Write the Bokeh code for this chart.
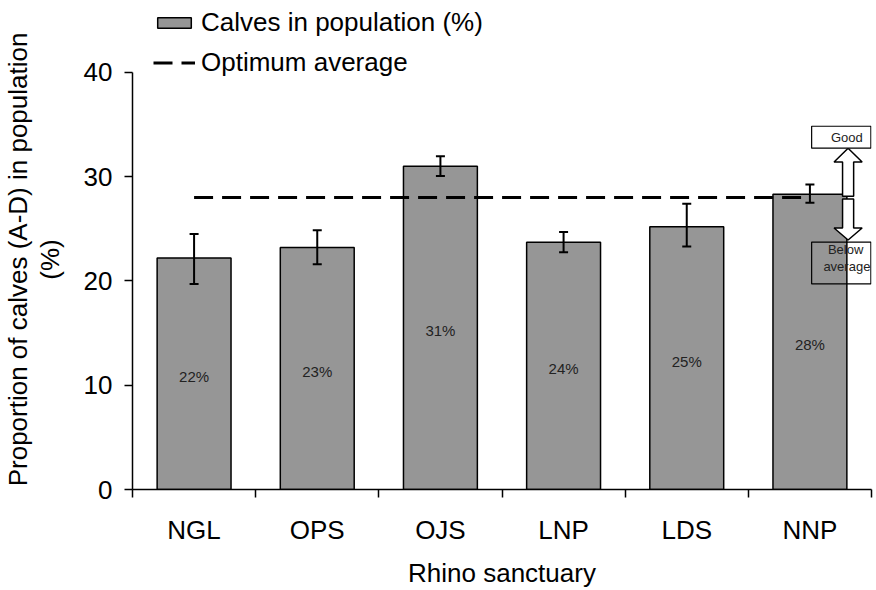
from bokeh.plotting import figure
from bokeh.models import (ColumnDataSource, FixedTicker, Whisker, TeeHead, Legend,
                          LegendItem, Range1d)
from bokeh.core.properties import value
from bokeh.embed import file_html
from bokeh.resources import INLINE

# ---- data ----
sanctuaries = ["NGL", "OPS", "OJS", "LNP", "LDS", "NNP"]
calves_pct = [22.2, 23.2, 31.0, 23.7, 25.2, 28.3]
err_lower = [19.7, 21.6, 30.05, 22.75, 23.3, 27.5]
err_upper = [24.5, 24.85, 31.95, 24.7, 27.4, 29.25]
bar_labels = ["22%", "23%", "31%", "24%", "25%", "28%"]
optimum = [28, 28, 28, 28, 28, 28]
y_ticks = [0, 10, 20, 30, 40]
x_title = "Rhino sanctuary"
y_title = ["Proportion of calves (A-D) in population", "(%)"]

FONT = "Liberation Sans"

# layout (page px; the Bokeh page has no body margin)
FIG_W, FIG_H = 876, 590
LEFT, RIGHT, BOTTOM = 131, 5, 100
FB = FIG_H - BOTTOM       # frame bottom (490)
Y40 = 72                  # page y of the 40 tick

n = len(sanctuaries)
xc = [i + 0.5 for i in range(n)]
src = ColumnDataSource(dict(x=xc, top=calves_pct, lower=err_lower, upper=err_upper,
                            lab=bar_labels, laby=[v / 2 for v in calves_pct]))

p = figure(width=FIG_W, height=FIG_H, output_backend="svg", toolbar_location=None,
           x_range=Range1d(0, n), y_range=Range1d(0, 40 * FB / (FB - Y40)),
           min_border_left=LEFT, min_border_right=RIGHT, min_border_top=0,
           min_border_bottom=BOTTOM)
p.grid.visible = False
p.outline_line_color = None
p.background_fill_color = "white"

bars = p.vbar(x="x", top="top", width=0.6, source=src, fill_color="#969696",
              line_color="black", line_width=1.5)
opt = p.line(xc, optimum, line_dash="19 9", line_width=3, line_color="black")

wh = Whisker(base="x", lower="lower", upper="upper", source=src, line_width=2,
             line_color="black", level="overlay",
             upper_head=TeeHead(size=9, line_width=2, line_color="black"),
             lower_head=TeeHead(size=9, line_width=2, line_color="black"))
p.add_layout(wh)

p.text(x="x", y="laby", text="lab", source=src, text_align="center",
       text_baseline="middle", text_font_size="15px", text_font=value(FONT),
       text_color="#222222", y_offset=3)

# ---- annotation: Good / Below average with block arrows ----
cx, sh, hh = 5.81, 0.045, 0.114
up_tip, up_base, up_bot = 32.73, 31.4, 28.13
dn_top, dn_base, dn_tip = 27.85, 25.07, 23.92
p.patch([cx - sh, cx - sh, cx - hh, cx, cx + hh, cx + sh, cx + sh],
        [up_bot, up_base, up_base, up_tip, up_base, up_base, up_bot],
        fill_color="white", line_color="black", line_width=1.5)
p.patch([cx - sh, cx - sh, cx - hh, cx, cx + hh, cx + sh, cx + sh],
        [dn_top, dn_base, dn_base, dn_tip, dn_base, dn_base, dn_top],
        fill_color="white", line_color="black", line_width=1.5)
p.quad(left=[5.514], right=[5.995], bottom=[32.73], top=[34.83],
       fill_color="white", line_color="black", line_width=1.2)
p.quad(left=[5.514], right=[5.995], bottom=[19.71], top=[23.73],
       fill_alpha=0, line_color="black", line_width=1.2)
p.text(x=[5.80, 5.79, 5.80], y=[33.78, 22.97, 21.34],
       text=["Good", "Below", "average"], text_align="center",
       text_baseline="middle", text_font_size="13px", text_font=value(FONT),
       text_color="#222222")

# ---- axes ----
xa = p.xaxis[0]
xa.ticker = FixedTicker(ticks=xc, minor_ticks=list(range(n + 1)))
xa.major_label_overrides = {x: s for x, s in zip(xc, sanctuaries)}
xa.major_tick_line_color = None
xa.major_tick_out = 8
xa.minor_tick_line_color = "black"
xa.minor_tick_line_width = 1.5
xa.minor_tick_out = 8
xa.minor_tick_in = 0
xa.major_label_standoff = 17
xa.axis_label = x_title
xa.axis_label_standoff = 10

# the reference centres the y title on the drawn axis (0..40) rather than on
# the whole frame: a little no-break-space padding moves its centre down
pad = "\u00a0" * 4
ya = p.yaxis[0]
ya.ticker = FixedTicker(ticks=y_ticks)
ya.bounds = (0, 40)
ya.major_tick_out = 8
ya.major_tick_in = 0
ya.minor_tick_line_color = None
ya.major_label_standoff = 12
ya.axis_label = "\n".join(t + pad for t in y_title)
ya.axis_label_standoff = 16
ya.axis_label_text_line_height = 1.05

for ax in (xa, ya):
    ax.axis_line_color = "black"
    ax.axis_line_width = 1.5
    ax.major_tick_line_width = 1.5
    ax.major_label_text_font = FONT
    ax.major_label_text_font_size = "26px"
    ax.major_label_text_color = "black"
    ax.axis_label_text_font = FONT
    ax.axis_label_text_font_size = "26px"
    ax.axis_label_text_font_style = "normal"
    ax.axis_label_text_color = "black"
ya.major_tick_line_color = "black"

legend = Legend(items=[LegendItem(label="Calves in population (%)", renderers=[bars]),
                       LegendItem(label="Optimum average", renderers=[opt])],
                location=(21, FB - 79), padding=0, margin=0, border_line_color=None,
                background_fill_alpha=0, label_text_font=FONT,
                label_text_font_size="26px", label_text_color="black",
                glyph_width=42, glyph_height=13, label_height=20, spacing=9,
                label_standoff=6)
p.add_layout(legend)

open("out.html", "w").write(file_html(p, INLINE))
